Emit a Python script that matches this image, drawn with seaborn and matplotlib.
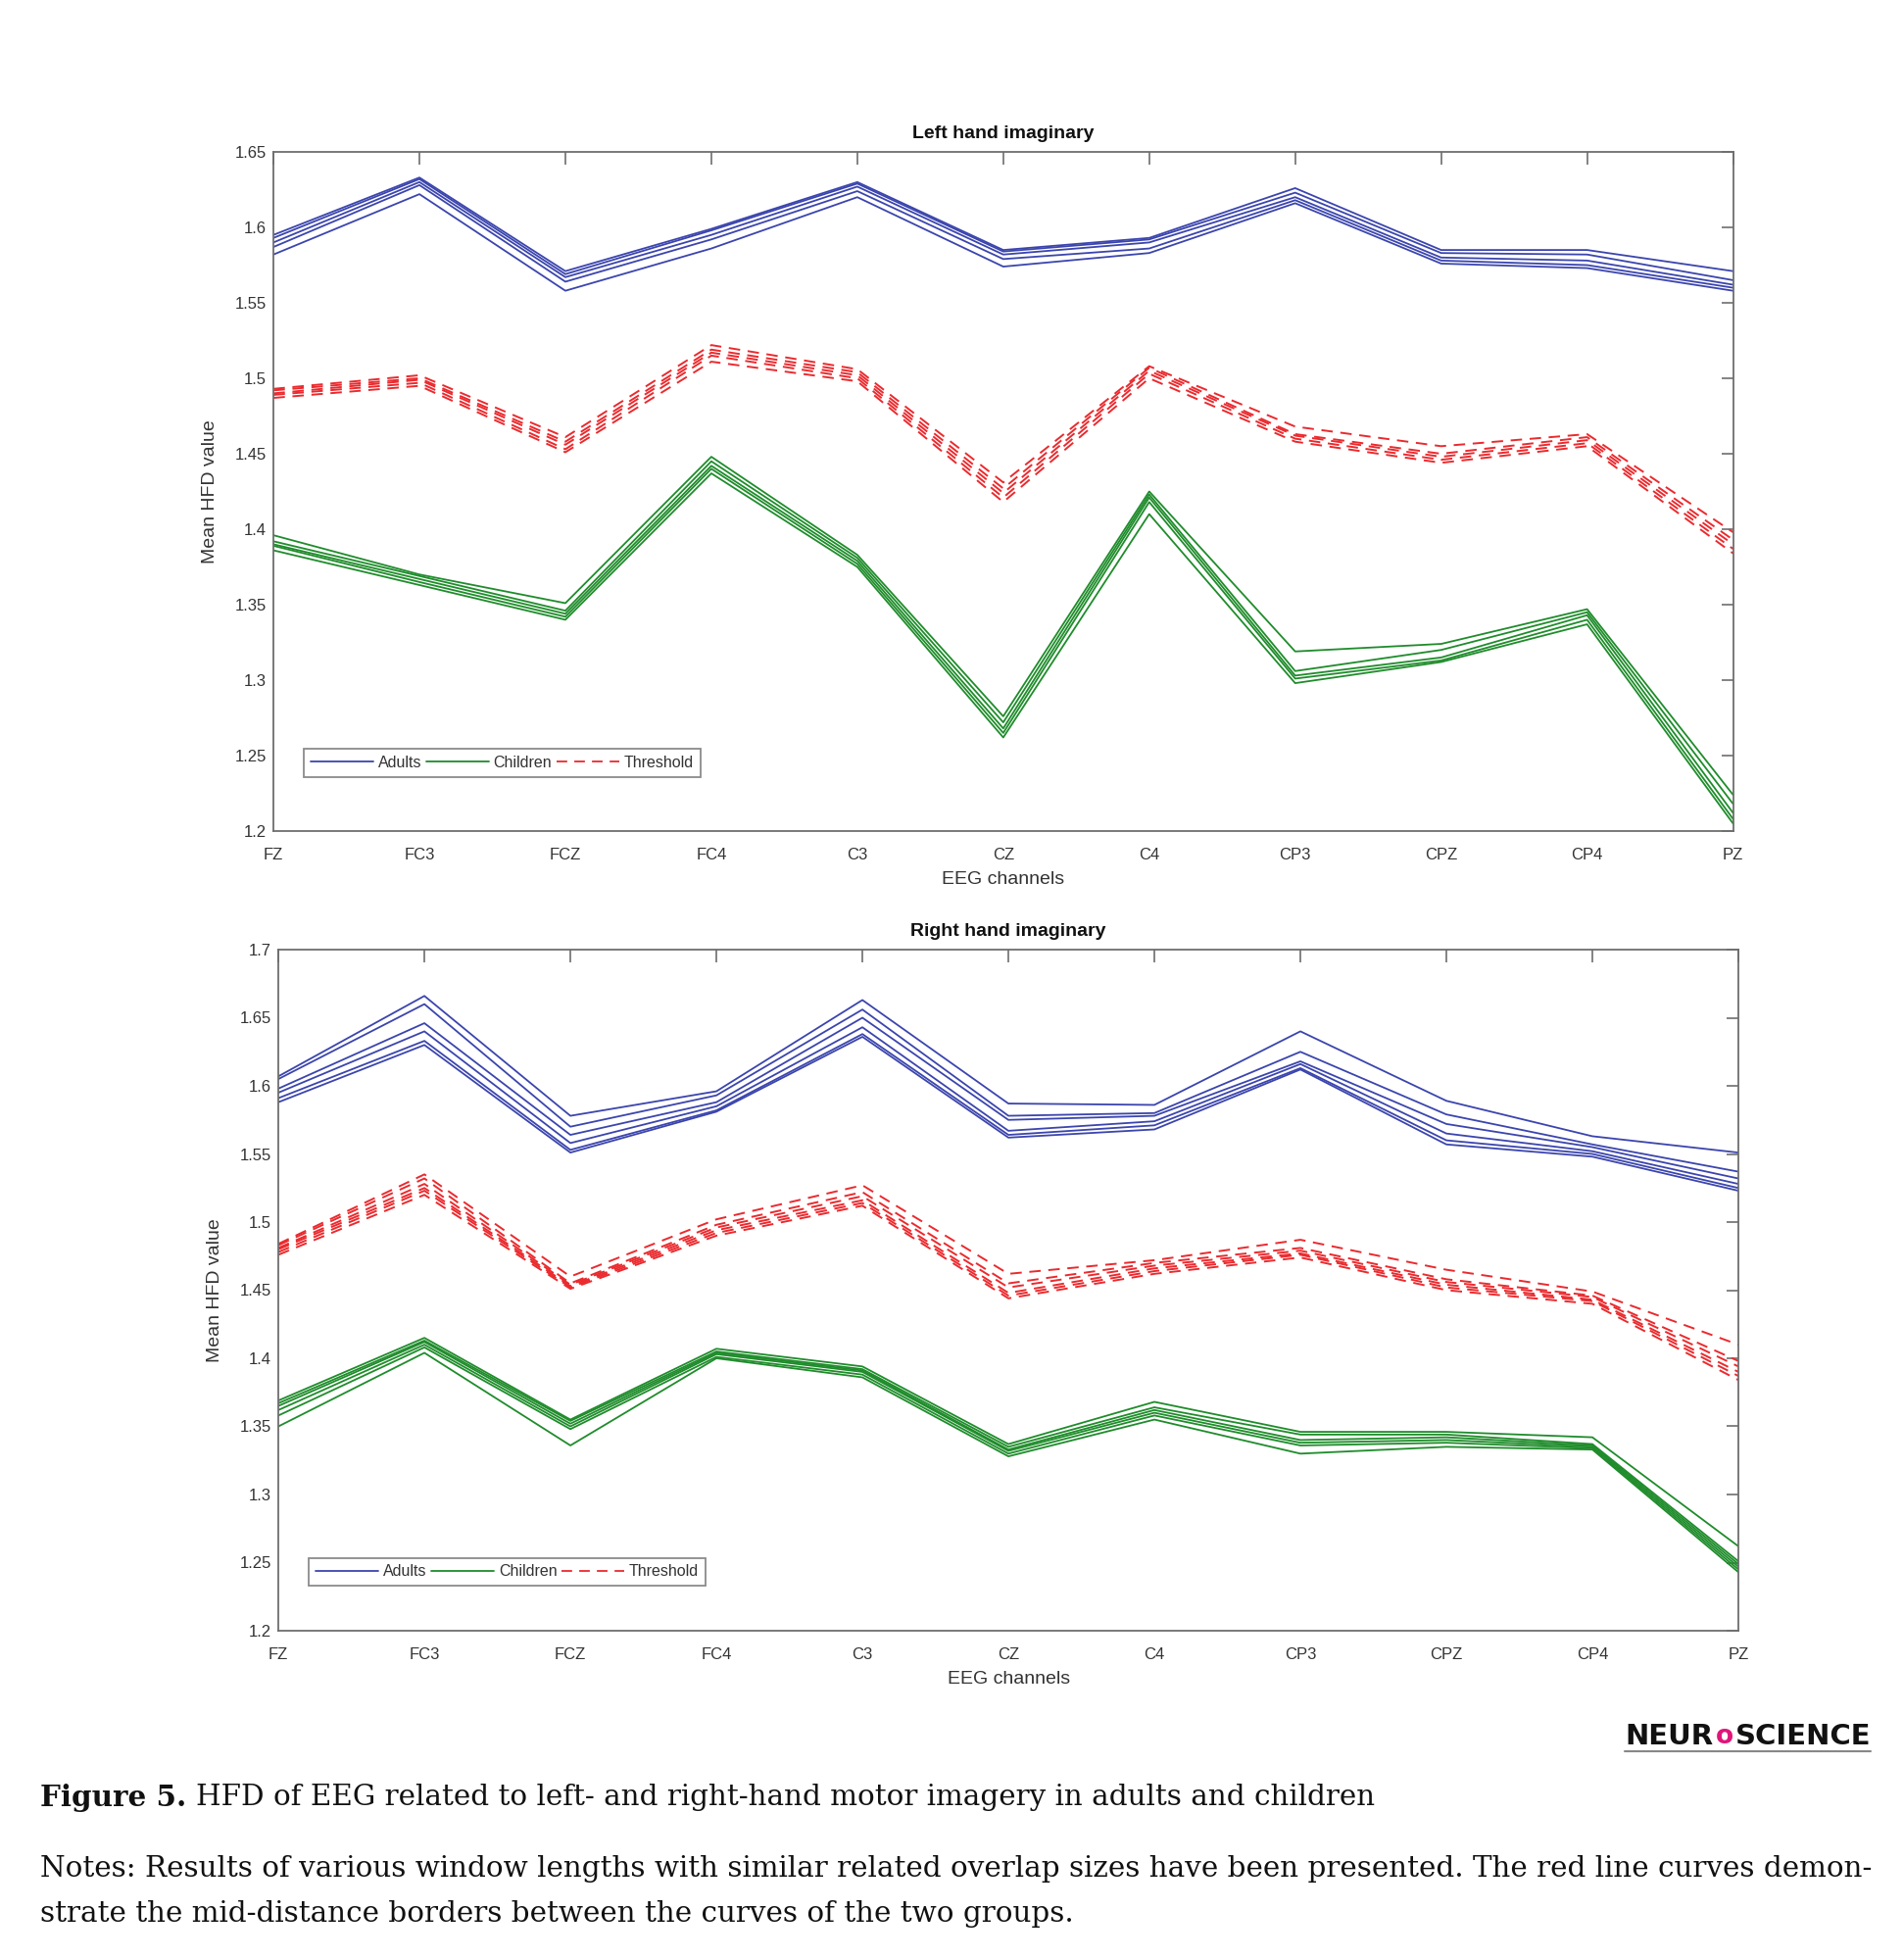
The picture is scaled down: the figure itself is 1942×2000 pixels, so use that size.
import numpy as np
import pandas as pd
import matplotlib
matplotlib.use("Agg")
import matplotlib.pyplot as plt
import seaborn as sns
from matplotlib.lines import Line2D

channels = ["FZ", "FC3", "FCZ", "FC4", "C3", "CZ", "C4", "CP3", "CPZ", "CP4", "PZ"]

# ---- Left hand imaginary (rows = channels, cols = runs) ----
left_adults = [
    [1.582, 1.587, 1.590, 1.593, 1.595],
    [1.622, 1.628, 1.630, 1.632, 1.633],
    [1.558, 1.564, 1.567, 1.569, 1.571],
    [1.586, 1.592, 1.595, 1.598, 1.599],
    [1.620, 1.624, 1.627, 1.629, 1.630],
    [1.574, 1.579, 1.582, 1.584, 1.585],
    [1.583, 1.586, 1.590, 1.592, 1.593],
    [1.616, 1.618, 1.620, 1.623, 1.626],
    [1.576, 1.578, 1.580, 1.583, 1.585],
    [1.573, 1.575, 1.578, 1.582, 1.585],
    [1.558, 1.560, 1.562, 1.565, 1.571],
]
left_threshold = [
    [1.487, 1.489, 1.490, 1.492, 1.493],
    [1.495, 1.497, 1.499, 1.500, 1.502],
    [1.451, 1.453, 1.456, 1.458, 1.461],
    [1.511, 1.515, 1.517, 1.519, 1.522],
    [1.498, 1.500, 1.502, 1.504, 1.506],
    [1.418, 1.421, 1.424, 1.427, 1.431],
    [1.500, 1.503, 1.505, 1.507, 1.508],
    [1.458, 1.460, 1.462, 1.463, 1.468],
    [1.444, 1.446, 1.448, 1.450, 1.455],
    [1.455, 1.457, 1.459, 1.461, 1.463],
    [1.384, 1.387, 1.390, 1.393, 1.398],
]
left_children = [
    [1.386, 1.389, 1.390, 1.392, 1.396],
    [1.363, 1.365, 1.367, 1.369, 1.370],
    [1.340, 1.342, 1.344, 1.346, 1.351],
    [1.437, 1.440, 1.442, 1.445, 1.448],
    [1.375, 1.377, 1.379, 1.381, 1.383],
    [1.262, 1.265, 1.268, 1.272, 1.276],
    [1.410, 1.418, 1.421, 1.423, 1.425],
    [1.298, 1.301, 1.303, 1.306, 1.319],
    [1.312, 1.313, 1.315, 1.320, 1.324],
    [1.337, 1.340, 1.343, 1.345, 1.347],
    [1.205, 1.208, 1.212, 1.218, 1.224],
]

# ---- Right hand imaginary ----
right_adults = [
    [1.588, 1.591, 1.595, 1.598, 1.605, 1.607],
    [1.630, 1.633, 1.640, 1.646, 1.660, 1.666],
    [1.551, 1.553, 1.558, 1.564, 1.570, 1.578],
    [1.581, 1.582, 1.585, 1.588, 1.593, 1.596],
    [1.636, 1.638, 1.643, 1.650, 1.656, 1.663],
    [1.562, 1.564, 1.567, 1.575, 1.578, 1.587],
    [1.568, 1.571, 1.574, 1.578, 1.580, 1.586],
    [1.612, 1.613, 1.616, 1.618, 1.625, 1.640],
    [1.557, 1.560, 1.565, 1.572, 1.579, 1.589],
    [1.548, 1.550, 1.552, 1.555, 1.557, 1.563],
    [1.523, 1.525, 1.528, 1.532, 1.537, 1.551],
]
right_threshold = [
    [1.476, 1.478, 1.480, 1.481, 1.483, 1.484],
    [1.520, 1.523, 1.525, 1.528, 1.532, 1.535],
    [1.451, 1.452, 1.453, 1.454, 1.455, 1.460],
    [1.490, 1.492, 1.494, 1.496, 1.498, 1.502],
    [1.512, 1.514, 1.516, 1.519, 1.522, 1.527],
    [1.444, 1.446, 1.448, 1.452, 1.455, 1.462],
    [1.462, 1.464, 1.466, 1.468, 1.470, 1.472],
    [1.474, 1.476, 1.477, 1.479, 1.481, 1.487],
    [1.450, 1.452, 1.454, 1.456, 1.458, 1.465],
    [1.440, 1.442, 1.443, 1.445, 1.446, 1.449],
    [1.384, 1.387, 1.390, 1.394, 1.398, 1.410],
]
right_children = [
    [1.350, 1.358, 1.362, 1.365, 1.367, 1.369],
    [1.404, 1.408, 1.410, 1.412, 1.413, 1.415],
    [1.336, 1.348, 1.350, 1.352, 1.354, 1.355],
    [1.400, 1.401, 1.403, 1.404, 1.405, 1.407],
    [1.386, 1.388, 1.390, 1.391, 1.392, 1.394],
    [1.328, 1.330, 1.332, 1.333, 1.335, 1.337],
    [1.355, 1.358, 1.360, 1.362, 1.364, 1.368],
    [1.330, 1.336, 1.338, 1.340, 1.344, 1.346],
    [1.335, 1.338, 1.340, 1.342, 1.344, 1.346],
    [1.333, 1.334, 1.335, 1.336, 1.337, 1.342],
    [1.243, 1.245, 1.247, 1.249, 1.251, 1.262],
]

left_yticks = [1.2, 1.25, 1.3, 1.35, 1.4, 1.45, 1.5, 1.55, 1.6, 1.65]
right_yticks = [1.2, 1.25, 1.3, 1.35, 1.4, 1.45, 1.5, 1.55, 1.6, 1.65, 1.7]

BLUE = "#3b45ad"
GREEN = "#1f8c2b"
RED = "#ea2a2e"
AXC = "#6e6e6e"
TXT = "#333333"

sns.set_theme(style="white")
plt.rcParams["font.family"] = ["Liberation Sans", "DejaVu Sans"]


def to_long(arr, group):
    a = np.array(arr)
    rows = []
    for r in range(a.shape[1]):
        for i, ch in enumerate(channels):
            rows.append({"channel": ch, "value": a[i, r], "run": r, "group": group})
    return pd.DataFrame(rows)


def draw(ax, adults, children, thresh, yticks, title, leg_y):
    for arr, grp, col in [(adults, "Adults", BLUE), (children, "Children", GREEN)]:
        df = to_long(arr, grp)
        sns.lineplot(data=df, x="channel", y="value", units="run", estimator=None,
                     color=col, lw=1.3, ax=ax, sort=False, legend=False)
    df = to_long(thresh, "Threshold")
    sns.lineplot(data=df, x="channel", y="value", units="run", estimator=None,
                 color=RED, lw=1.4, ax=ax, sort=False, legend=False)
    for ln in ax.lines[-len(thresh[0]):]:
        ln.set_dashes([6, 4])
    ax.set_xlim(0, len(channels) - 1)
    ax.set_ylim(yticks[0], yticks[-1])
    ax.set_xticks(range(len(channels)))
    ax.set_xticklabels(channels)
    ax.set_yticks(yticks)
    ax.set_yticklabels([("%g" % t) for t in yticks])
    ax.tick_params(direction="in", length=9, width=1.2, color=AXC, labelsize=12,
                   labelcolor=TXT, top=True, right=True)
    ax.tick_params(axis="x", pad=12)
    ax.tick_params(axis="y", pad=5)
    for s in ax.spines.values():
        s.set_visible(True)
        s.set_color(AXC)
        s.set_linewidth(1.3)
    ax.set_xlabel("EEG channels", fontsize=14, color=TXT, labelpad=7)
    ax.set_ylabel("Mean HFD value", fontsize=14, color=TXT, labelpad=12)
    ax.set_title(title, fontsize=14, fontweight="bold", color="#111111", pad=10)
    handles = [Line2D([], [], color=BLUE, lw=1.3),
               Line2D([], [], color=GREEN, lw=1.3),
               Line2D([], [], color=RED, lw=1.3, dashes=[6, 4])]
    leg = ax.legend(handles, ["Adults", "Children", "Threshold"], ncol=3,
                    loc="lower left", bbox_to_anchor=(0.021, leg_y), fontsize=11.5,
                    frameon=True, fancybox=False, handlelength=4.0, handletextpad=0.3,
                    columnspacing=0.3, borderpad=0.42, borderaxespad=0)
    leg.get_frame().set_edgecolor(AXC)
    leg.get_frame().set_linewidth(1.3)
    for t in leg.get_texts():
        t.set_color(TXT)


fig = plt.figure(figsize=(19.42, 20), dpi=100)
ax1 = fig.add_axes([0.1437, 0.576, 0.767, 0.3465])
ax2 = fig.add_axes([0.1463, 0.168, 0.7672, 0.3475])

draw(ax1, left_adults, left_children, left_threshold, left_yticks, "Left hand imaginary", 0.080)
draw(ax2, right_adults, right_children, right_threshold, right_yticks, "Right hand imaginary", 0.066)

renderer = fig.canvas.get_renderer()
FW = fig.bbox.width


def right_edge(t):
    bb = t.get_window_extent(renderer=renderer)
    return bb.x1 / FW


# logo
logo_font = ["DejaVu Sans Condensed", "DejaVu Sans"]
ly = 0.1140
t1 = fig.text(0.854, ly, "NEUR", fontsize=21, fontweight="bold", color="#111111",
              ha="left", va="center", family=logo_font)
x = right_edge(t1) + 0.001
t2 = fig.text(x, ly, "o", fontsize=19, fontweight="bold", color="#e0157a",
              ha="left", va="center", family=logo_font)
x = right_edge(t2) + 0.001
t3 = fig.text(x, ly, "SCIENCE", fontsize=21, fontweight="bold", color="#111111",
              ha="left", va="center", family=logo_font)
x_end = right_edge(t3)
fig.add_artist(Line2D([0.854, x_end], [0.1065, 0.1065], color="#888888", lw=1.5,
                      transform=fig.transFigure))

# caption
serif = ["DejaVu Serif", "Liberation Serif"]
cs = 21.2
c1 = fig.text(0.021, 0.0828, "Figure 5.", fontsize=cs, fontweight="bold", family=serif,
              color="#111111", va="center", ha="left")
x = right_edge(c1) + 0.005
fig.text(x, 0.0828, "HFD of EEG related to left- and right-hand motor imagery in adults and children",
         fontsize=cs, family=serif, color="#111111", va="center", ha="left")
fig.text(0.021, 0.0465, "Notes: Results of various window lengths with similar related overlap sizes have been presented. The red line curves demon-",
         fontsize=cs, family=serif, color="#111111", va="center", ha="left")
fig.text(0.021, 0.0235, "strate the mid-distance borders between the curves of the two groups.",
         fontsize=cs, family=serif, color="#111111", va="center", ha="left")

fig.savefig("out.png", dpi=100, facecolor="white")
